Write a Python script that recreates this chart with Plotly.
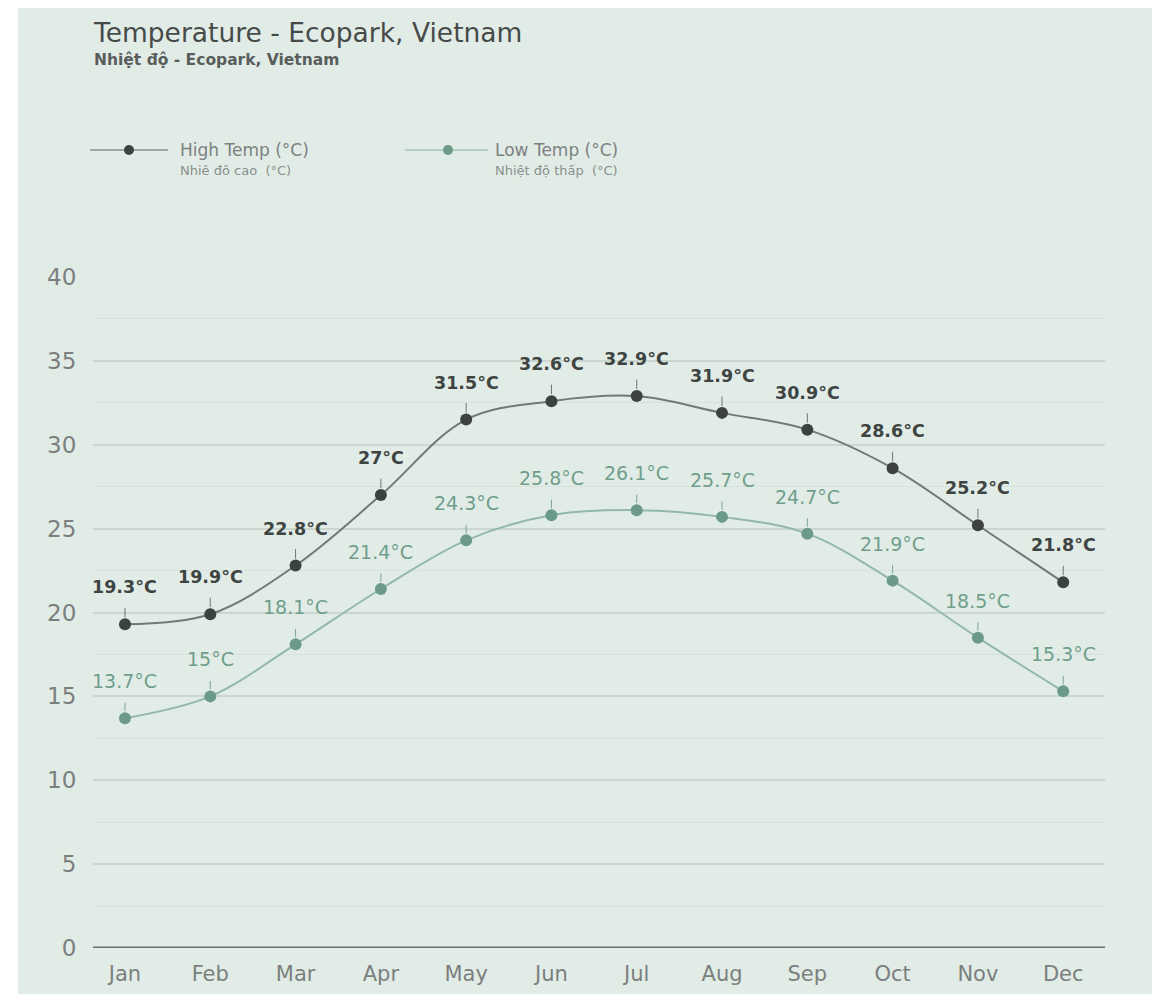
import plotly.graph_objects as go

months = ["Jan", "Feb", "Mar", "Apr", "May", "Jun", "Jul", "Aug", "Sep", "Oct", "Nov", "Dec"]
high_temp = [19.3, 19.9, 22.8, 27, 31.5, 32.6, 32.9, 31.9, 30.9, 28.6, 25.2, 21.8]
low_temp = [13.7, 15, 18.1, 21.4, 24.3, 25.8, 26.1, 25.7, 24.7, 21.9, 18.5, 15.3]
y_ticks = [0, 5, 10, 15, 20, 25, 30, 35, 40]

FONT = "DejaVu Sans"
BG = "#E2ECE7"
HIGH_LINE = "#737876"
HIGH_MARK = "#3c4240"
HIGH_TEXT = "#3e4442"
LOW_LINE = "#93b8a9"
LOW_MARK = "#6b9b88"
LOW_TEXT = "#6f9e8b"

# page offset caused by the default body margin
OFF = 8
W, H = 1160 - OFF, 994 - OFF
PLOT_L, PLOT_R, PLOT_T, PLOT_B = 93, 1105, 277, 948  # page coords
ML = PLOT_L - OFF
MR = W - (PLOT_R - OFF)
MT = PLOT_T - OFF
MB = H - (PLOT_B - OFF)
pw = W - ML - MR
ph = H - MT - MB


def px(x):
    return (x - OFF - ML) / pw


def py(y):
    return (H - MB - (y - OFF)) / ph


fig = go.Figure()

fig.add_trace(go.Scatter(
    x=list(range(len(months))), y=high_temp, mode="lines+markers",
    line=dict(color=HIGH_LINE, width=2, shape="spline", smoothing=1),
    marker=dict(color=HIGH_MARK, size=12),
    name="High Temp (°C)", cliponaxis=False,
))
fig.add_trace(go.Scatter(
    x=list(range(len(months))), y=low_temp, mode="lines+markers",
    line=dict(color=LOW_LINE, width=2, shape="spline", smoothing=1),
    marker=dict(color=LOW_MARK, size=12),
    name="Low Temp (°C)", cliponaxis=False,
))

annotations = []
for i, v in enumerate(high_temp):
    annotations.append(dict(
        x=i, y=v, xref="x", yref="y", text=f"{v:g}°C",
        showarrow=True, ax=0, ay=-37, arrowhead=0, arrowwidth=1,
        arrowcolor="#6f7472", standoff=7, startstandoff=9,
        font=dict(family=FONT, size=17.5, color=HIGH_TEXT, weight="bold"),
    ))
for i, v in enumerate(low_temp):
    annotations.append(dict(
        x=i, y=v, xref="x", yref="y", text=f"{v:g}°C",
        showarrow=True, ax=0, ay=-37, arrowhead=0, arrowwidth=1,
        arrowcolor="#7ba595", standoff=7, startstandoff=9,
        font=dict(family=FONT, size=19, color=LOW_TEXT),
    ))

# Title & subtitle
annotations.append(dict(x=px(91), y=py(32), xref="paper", yref="paper", xanchor="left", yanchor="middle",
                        text="Temperature - Ecopark, Vietnam", showarrow=False,
                        font=dict(family=FONT, size=26.5, color="#464b49")))
annotations.append(dict(x=px(92), y=py(60), xref="paper", yref="paper", xanchor="left", yanchor="middle",
                        text="Nhiệt độ - Ecopark, Vietnam", showarrow=False,
                        font=dict(family=FONT, size=15.5, color="#595e5c", weight="bold")))

# Legend texts
annotations += [
    dict(x=px(178), y=py(150), xref="paper", yref="paper", xanchor="left", yanchor="middle",
         text="High Temp (°C)", showarrow=False, font=dict(family=FONT, size=17, color="#7c817f")),
    dict(x=px(178), y=py(171), xref="paper", yref="paper", xanchor="left", yanchor="middle",
         text="Nhiê đô cao  (°C)", showarrow=False, font=dict(family=FONT, size=13, color="#8a8f8d")),
    dict(x=px(493), y=py(150), xref="paper", yref="paper", xanchor="left", yanchor="middle",
         text="Low Temp (°C)", showarrow=False, font=dict(family=FONT, size=17, color="#7c817f")),
    dict(x=px(493), y=py(171), xref="paper", yref="paper", xanchor="left", yanchor="middle",
         text="Nhiệt độ thấp  (°C)", showarrow=False, font=dict(family=FONT, size=13, color="#8a8f8d")),
]

shapes = [
    # panel background
    dict(type="rect", xref="paper", yref="paper", x0=px(18), x1=px(1153), y0=py(1010), y1=py(0),
         fillcolor=BG, line=dict(width=0), layer="below"),
    # legend samples
    dict(type="line", xref="paper", yref="paper", x0=px(90), x1=px(168), y0=py(150), y1=py(150),
         line=dict(color="#8a8f8d", width=1.5)),
    dict(type="circle", xref="paper", yref="paper", x0=px(124), x1=px(134), y0=py(155), y1=py(145),
         fillcolor=HIGH_MARK, line=dict(width=0)),
    dict(type="line", xref="paper", yref="paper", x0=px(405), x1=px(488), y0=py(150), y1=py(150),
         line=dict(color="#a7c6b9", width=1.5)),
    dict(type="circle", xref="paper", yref="paper", x0=px(443), x1=px(453), y0=py(155), y1=py(145),
         fillcolor=LOW_MARK, line=dict(width=0)),
    # baseline
    dict(type="line", xref="paper", yref="y", x0=0, x1=1, y0=0, y1=0,
         line=dict(color="#6a706e", width=3)),
]

fig.update_layout(
    width=W, height=H,
    margin=dict(l=ML, r=MR, t=MT, b=MB, autoexpand=False),
    paper_bgcolor="white", plot_bgcolor=BG,
    showlegend=False,
    annotations=annotations, shapes=shapes,
    font=dict(family=FONT),
    xaxis=dict(
        range=[-0.375, 11.49], tickmode="array", tickvals=list(range(len(months))), ticktext=months,
        showgrid=False, zeroline=False, showline=False,
        ticks="outside", ticklen=7, tickcolor="rgba(0,0,0,0)",
        tickfont=dict(family=FONT, size=21, color="#7b807e"),
    ),
    yaxis=dict(
        range=[0, 40], tickmode="array", tickvals=y_ticks,
        showgrid=True, gridcolor="#cbd6d1", gridwidth=1.5, zeroline=False, showline=False,
        ticks="outside", ticklen=11, tickcolor="rgba(0,0,0,0)",
        tickfont=dict(family=FONT, size=23, color="#7b807e"),
        minor=dict(dtick=2.5, tick0=0, showgrid=True, gridcolor="#d8e2dd", gridwidth=1),
    ),
)

fig.write_html("out.html")
